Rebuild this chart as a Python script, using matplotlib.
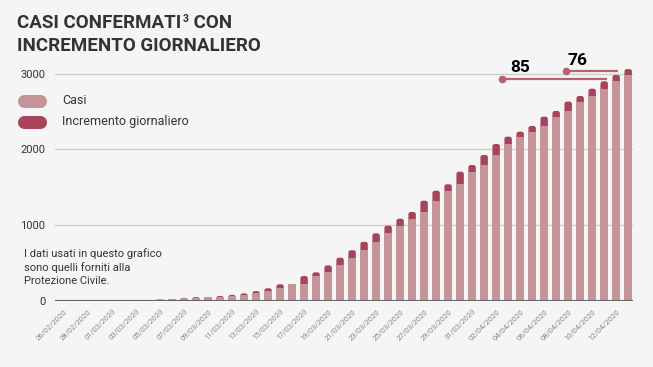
import numpy as np
import matplotlib.pyplot as plt
from matplotlib.patches import FancyBboxPatch
from matplotlib.lines import Line2D

# dati: casi confermati totali per giorno (26/02 - 13/04)
giorni = ["26/02/2020", "27/02/2020", "28/02/2020", "29/02/2020",
          "01/03/2020", "02/03/2020", "03/03/2020", "04/03/2020",
          "05/03/2020", "06/03/2020", "07/03/2020", "08/03/2020",
          "09/03/2020", "10/03/2020", "11/03/2020", "12/03/2020",
          "13/03/2020", "14/03/2020", "15/03/2020", "16/03/2020",
          "17/03/2020", "18/03/2020", "19/03/2020", "20/03/2020",
          "21/03/2020", "22/03/2020", "23/03/2020", "24/03/2020",
          "25/03/2020", "26/03/2020", "27/03/2020", "28/03/2020",
          "29/03/2020", "30/03/2020", "31/03/2020", "01/04/2020",
          "02/04/2020", "03/04/2020", "04/04/2020", "05/04/2020",
          "06/04/2020", "07/04/2020", "08/04/2020", "09/04/2020",
          "10/04/2020", "11/04/2020", "12/04/2020", "13/04/2020"]
totale = [0, 0, 0, 0, 0, 0, 0, 0,
          20, 22, 35, 50, 51, 66, 80, 100,
          130, 168, 220, 222, 330, 378, 470, 571,
          670, 780, 893, 994, 1086, 1174, 1323, 1455,
          1540, 1706, 1794, 1926, 2071, 2168, 2234, 2309,
          2431, 2507, 2630, 2704, 2801, 2898, 2983, 3059]

totale = np.array(totale)
casi = np.concatenate([[0], totale[:-1]])
incremento = totale - casi
x = np.arange(len(giorni))

c_casi = "#c49499"
c_inc = "#a84459"
c_bg = "#f5f5f5"
c_txt = "#333333"

plt.rcParams['font.family'] = ['Roboto', 'DejaVu Sans']

W, H = 653, 367
fig = plt.figure(figsize=(W / 100, H / 100), dpi=100, facecolor=c_bg)
ax = fig.add_axes([55/W, 66/H, 578/W, (301-58.4)/H])
ax.set_facecolor(c_bg)
ax.set_xlim(-0.75, 47.4)
ax.set_ylim(0, 3200)

# barre: totale scuro con angoli arrotondati, casi chiari sopra
bw = 0.62
aspect = (3200 / (301 - 58.4)) / (48.15 / 578)
for xi, t, c in zip(x, totale, casi):
    if t <= 0:
        continue
    r = min(0.2, t / aspect / 2)
    ax.add_patch(FancyBboxPatch((xi - bw/2, 0), bw, t,
                                boxstyle=f"round,pad=0,rounding_size={r}",
                                mutation_aspect=aspect, color=c_inc, lw=0, zorder=3))
ax.bar(x, casi, width=bw, color=c_casi, zorder=3.5)

for s in ax.spines.values():
    s.set_visible(False)
for v in [1000, 2000, 3000]:
    ax.axhline(v, color="#cfcfcf", lw=1, zorder=1)
ax.axhline(0, color="#666666", lw=1.5, zorder=4)

ax.set_yticks([0, 1000, 2000, 3000])
ax.set_yticklabels(["0", "1000", "2000", "3000"], fontsize=8, color=c_txt)
ax.tick_params(axis="y", length=0, pad=7)
ax.set_xticks(x[::2])
ax.set_xticklabels(giorni[::2], rotation=45, ha="right", rotation_mode="anchor",
                   fontsize=5.5, color="#888888")
ax.tick_params(axis="x", length=0, pad=5)

# annotazioni degli ultimi incrementi
c_ann = "#b5646f"
ax.plot([36.5, 45.25], [2929, 2929], color=c_ann, lw=1.6, zorder=5, solid_capstyle="butt")
ax.plot([36.5], [2929], "o", color=c_ann, ms=4.5, zorder=5)
ax.text(38, 3074, str(incremento[-2]), ha="center", va="center", fontsize=12.5,
        fontweight="bold", color="black")
ax.plot([41.8, 46.17], [3034, 3034], color=c_ann, lw=1.6, zorder=5, solid_capstyle="butt")
ax.plot([41.8], [3034], "o", color=c_ann, ms=4.5, zorder=5)
ax.text(42.75, 3170, str(incremento[-1]), ha="center", va="center", fontsize=12.5,
        fontweight="bold", color="black")

# titolo (con apice piccolo)
ty1 = 1 - 28/H
t1 = fig.text(17/W, ty1, "CASI CONFERMATI", fontsize=13.5,
              fontweight="bold", color=c_txt, va="baseline", ha="left")
fig.canvas.draw()
x1 = t1.get_window_extent().x1
sup = fig.text((x1 + 1) / W, ty1 + 6.5/H, "3", fontsize=7.5, fontweight="bold",
               color=c_txt, va="baseline", ha="left")
fig.canvas.draw()
x2 = sup.get_window_extent().x1
fig.text((x2 + 1) / W, ty1, " CON", fontsize=13.5, fontweight="bold",
         color=c_txt, va="baseline", ha="left")
fig.text(17/W, 1 - 51/H, "INCREMENTO GIORNALIERO", fontsize=13.5,
         fontweight="bold", color=c_txt, va="baseline", ha="left")

# legenda
for yy, col, lab in [(101, c_casi, "Casi"), (122, c_inc, "Incremento giornaliero")]:
    fig.add_artist(Line2D([24/W, 40/W], [1 - yy/H, 1 - yy/H], transform=fig.transFigure,
                          color=col, lw=9.4, solid_capstyle="round"))
    fig.text(62/W, 1 - yy/H, lab, fontsize=9, color=c_txt, va="center")

fig.text(24/W, 1 - 267/H, "I dati usati in questo grafico\nsono quelli forniti alla\nProtezione Civile.",
         fontsize=8, color=c_txt, va="center", linespacing=1.35)

fig.savefig("out.png", dpi=100, facecolor=c_bg)
